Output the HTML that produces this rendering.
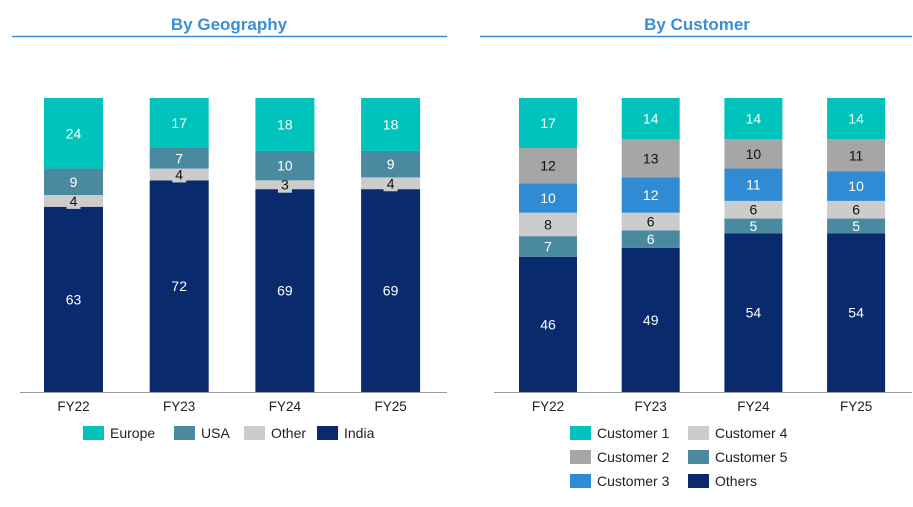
<!DOCTYPE html>
<html><head><meta charset="utf-8"><style>
body{margin:0;background:#fff;font-family:"Liberation Sans",sans-serif;}
svg text{font-family:"Liberation Sans",sans-serif;}
</style></head><body>
<svg id="c" width="913" height="502" xmlns="http://www.w3.org/2000/svg">
<text x="229" y="30" text-anchor="middle" font-size="17" font-weight="bold" fill="#3a8fd6">By Geography</text>
<line x1="12" y1="36.5" x2="447" y2="36.5" stroke="#3a8fd6" stroke-width="1.5"/>
<text x="697" y="30" text-anchor="middle" font-size="17" font-weight="bold" fill="#3a8fd6">By Customer</text>
<line x1="480" y1="36.5" x2="912" y2="36.5" stroke="#3a8fd6" stroke-width="1.5"/>
<g id="g1"></g><g id="g2"></g>
</svg>
<script>
const categories = ["FY22","FY23","FY24","FY25"];
const geoSeries = ["India","Other","USA","Europe"];
const geoIndia = [63,72,69,69];
const geoOther = [4,4,3,4];
const geoUSA = [9,7,10,9];
const geoEurope = [24,17,18,18];
const custSeries = ["Others","Customer 5","Customer 4","Customer 3","Customer 2","Customer 1"];
const custOthers = [46,49,54,54];
const cust5 = [7,6,5,5];
const cust4 = [8,6,6,6];
const cust3 = [10,12,11,10];
const cust2 = [12,13,10,11];
const cust1 = [17,14,14,14];

const NS="http://www.w3.org/2000/svg";
function mk(p,tag,a){const e=document.createElementNS(NS,tag);for(const k in a)e.setAttribute(k,a[k]);p.appendChild(e);return e;}
const base=392, scale=2.94;
function y(v){return base-v*scale;}

function drawChart(g,cfg){
  mk(g,'line',{x1:cfg.ax0,x2:cfg.ax1,y1:base+0.5,y2:base+0.5,stroke:'#999','stroke-width':1});
  categories.forEach((c,i)=>{
    const x=cfg.x0+i*cfg.step;
    let cum=0;
    cfg.data.forEach((arr,s)=>{
      const v=arr[i];
      const r=mk(g,'rect',{x:x,y:y(cum+v),width:cfg.w,height:v*scale,fill:cfg.colors[s]});
      
      
      const cy=y(cum+v/2);
      if(v*scale<14){
        const b=mk(g,'rect',{x:x+cfg.w/2-7,y:cy-8,width:14,height:16,fill:cfg.colors[s]});
        
        
      }
      const t=mk(g,'text',{x:x+cfg.w/2,y:cy+5,'text-anchor':'middle','font-size':14,fill:cfg.tc[s]});
      t.textContent=v;
      
      
      cum+=v;
    });
    const t=mk(g,'text',{x:x+cfg.w/2,y:411,'text-anchor':'middle','font-size':13.5,fill:'#222'});
    t.textContent=c;
    
    
  });
  cfg.legend.forEach(l=>{
    const s=mk(g,'rect',{x:l[0],y:l[1]-7,width:21,height:14,fill:cfg.colors[l[2]]});
    
    
    const t=mk(g,'text',{x:l[0]+27,y:l[1]+5,'font-size':14,fill:'#222'});
    t.textContent=cfg.names[l[2]];
    
    
  });
}
drawChart(document.getElementById('g1'),{
  ax0:20,ax1:447,x0:44,step:105.7,w:59,
  data:[geoIndia,geoOther,geoUSA,geoEurope],names:geoSeries,
  colors:['#0a2a6e','#cccccc','#4a8aa0','#00c4bc'],
  tc:['#fff','#111','#fff','#fff'],
  legend:[[83,433,3],[174,433,2],[244,433,1],[317,433,0]]
});
drawChart(document.getElementById('g2'),{
  ax0:494,ax1:912,x0:519,step:102.7,w:58,
  data:[custOthers,cust5,cust4,cust3,cust2,cust1],names:custSeries,
  colors:['#0a2a6e','#4a8aa0','#cccccc','#2e8bd4','#a6a6a6','#00c4bc'],
  tc:['#fff','#fff','#111','#fff','#111','#fff'],
  legend:[[570,433,5],[688,433,2],[570,457,4],[688,457,1],[570,481,3],[688,481,0]]
});
</script>
</body></html>
